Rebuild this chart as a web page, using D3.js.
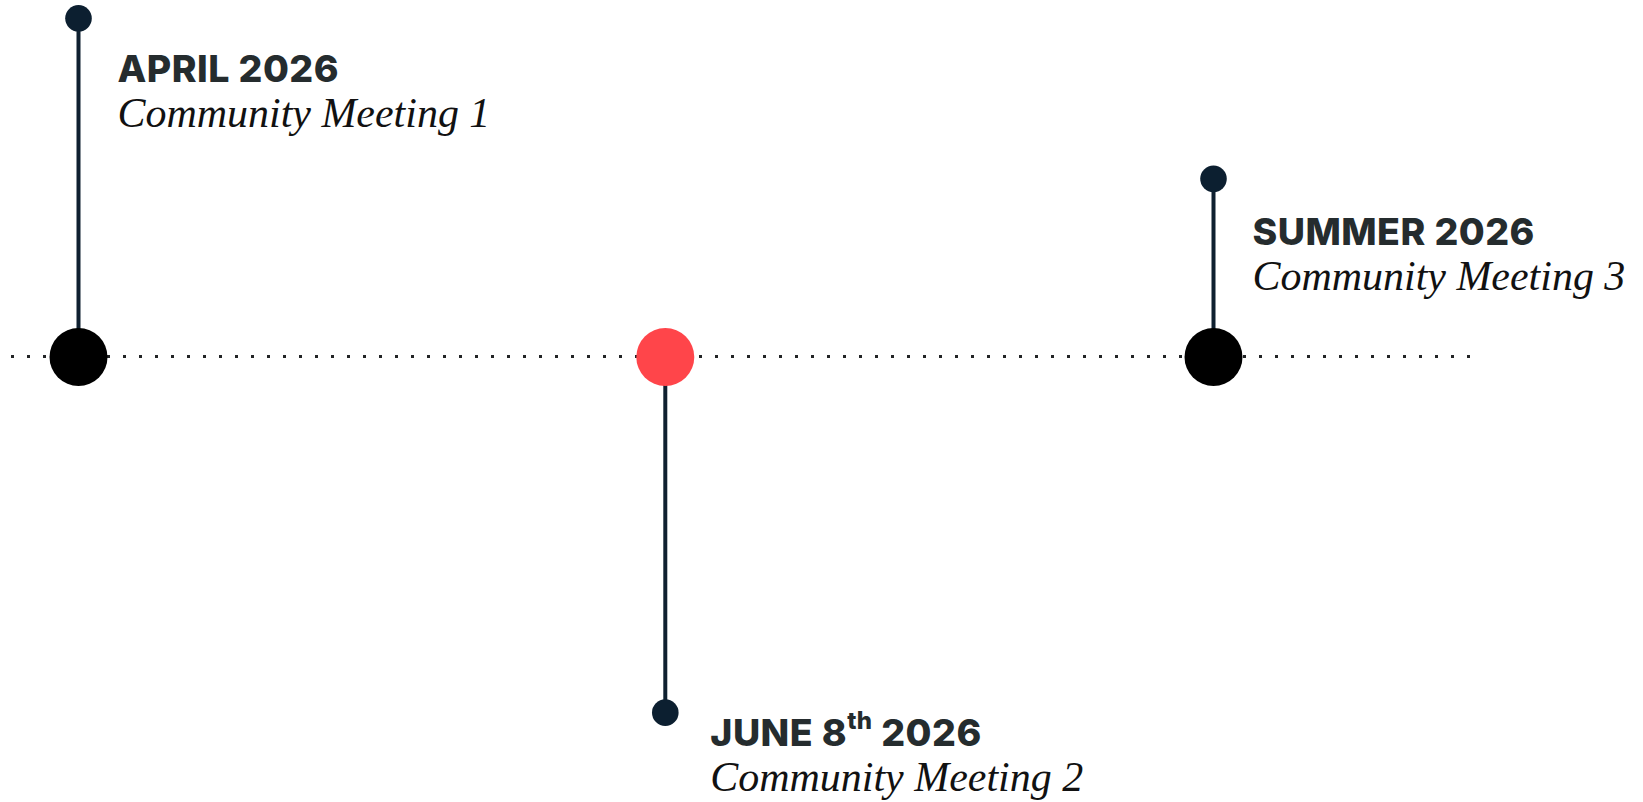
<!DOCTYPE html>
<html>
<head>
<meta charset="utf-8">
<script src="https://cdn.jsdelivr.net/npm/d3@7"></script>
<style>
  html, body { margin: 0; padding: 0; background: #ffffff; }
  svg { display: block; }
</style>
</head>
<body>
<svg id="chart" width="1643" height="802"></svg>
<script>
// ---- data ----
const dateLabels = ["APRIL 2026", "JUNE 8th 2026", "SUMMER 2026"];
const meetingLabels = ["Community Meeting 1", "Community Meeting 2", "Community Meeting 3"];
const timelineProgress = [0, 51.7, 100];      // relative position along the timeline (%)
const stemValues = [100, -105, 52.6];        // stem reach (+ up, - down)
const highlight = [false, true, false];      // current milestone

// ---- layout ----
const W = 1643, H = 802;
const axisY = 357;
const x = d3.scaleLinear().domain([0, 100]).range([78.5, 1213.5]);
const y = d3.scaleLinear().domain([0, 100]).range([axisY, 18.3]);

const svg = d3.select("#chart");

const events = dateLabels.map((d, i) => ({
  date: d, meeting: meetingLabels[i], pos: timelineProgress[i],
  stem: stemValues[i], hi: highlight[i]
}));

// dotted base line
svg.append("line")
  .attr("x1", 11).attr("x2", 1470)
  .attr("y1", axisY - 0.5).attr("y2", axisY - 0.5)
  .attr("stroke", "#222426")
  .attr("stroke-width", 3)
  .attr("stroke-dasharray", "3 13");

// stems
svg.selectAll("line.stem").data(events).join("line")
  .attr("class", "stem")
  .attr("x1", d => x(d.pos)).attr("x2", d => x(d.pos))
  .attr("y1", y(0)).attr("y2", d => y(d.stem))
  .attr("stroke", "#0f2030").attr("stroke-width", 4);

// big milestone circles
svg.selectAll("circle.big").data(events).join("circle")
  .attr("class", "big")
  .attr("cx", d => x(d.pos)).attr("cy", y(0))
  .attr("r", 29)
  .attr("fill", d => d.hi ? "#ff454a" : "#000000");

// small stem-end circles
svg.selectAll("circle.small").data(events).join("circle")
  .attr("class", "small")
  .attr("cx", d => x(d.pos)).attr("cy", d => y(d.stem))
  .attr("r", 13.3)
  .attr("fill", "#0c1f30");

// labels
const boldFont = "Inter, 'Open Sans', sans-serif";
const italicFont = "'Liberation Serif', 'Times New Roman', serif";
const boldSize = 37.5;

// fit letter-spacing of bold text to reference width
const probe = svg.append("text")
  .attr("font-family", boldFont).attr("font-weight", 800)
  .attr("font-size", boldSize).text(dateLabels[0]);
const bw = probe.node().getComputedTextLength();
probe.remove();
const targetBold = 221;
const letterSp = (targetBold - bw) / (dateLabels[0].length - 1);

// fit italic size to reference width
const probe2 = svg.append("text")
  .attr("font-family", italicFont).attr("font-style", "italic")
  .attr("font-size", 40).text(meetingLabels[0]);
const iw = probe2.node().getComputedTextLength();
probe2.remove();
const italicSize = 40 * 373 / iw;

const labels = svg.selectAll("g.label").data(events).join("g")
  .attr("class", "label")
  .attr("transform", d => {
    const up = d.stem > 0;
    const lx = x(d.pos) + (up ? 39 : 45);
    const ly = up ? y(d.stem) + 64 + (1 - d.stem / 100) * 4.5 : y(d.stem) + 33;
    return `translate(${lx},${ly})`;
  });

labels.each(function(d) {
  const g = d3.select(this);
  const t = g.append("text")
    .attr("x", 0).attr("y", 0)
    .attr("font-family", boldFont).attr("font-weight", 800)
    .attr("font-size", boldSize)
    .attr("letter-spacing", letterSp)
    .attr("fill", "#252c2e");
  const m = d.date.match(/^(.*?\d)(st|nd|rd|th)(.*)$/);
  if (m) {
    t.append("tspan").text(m[1]);
    t.append("tspan").text(m[2])
      .attr("font-size", 24).attr("dy", -17).attr("dx", 0);
    t.append("tspan").text(m[3]).attr("dy", 17);
  } else {
    t.text(d.date);
  }
  g.append("text")
    .attr("x", 0).attr("y", 45)
    .attr("font-family", italicFont).attr("font-style", "italic")
    .attr("font-size", italicSize)
    .attr("fill", "#111111")
    .text(d.meeting);
});
</script>
</body>
</html>
